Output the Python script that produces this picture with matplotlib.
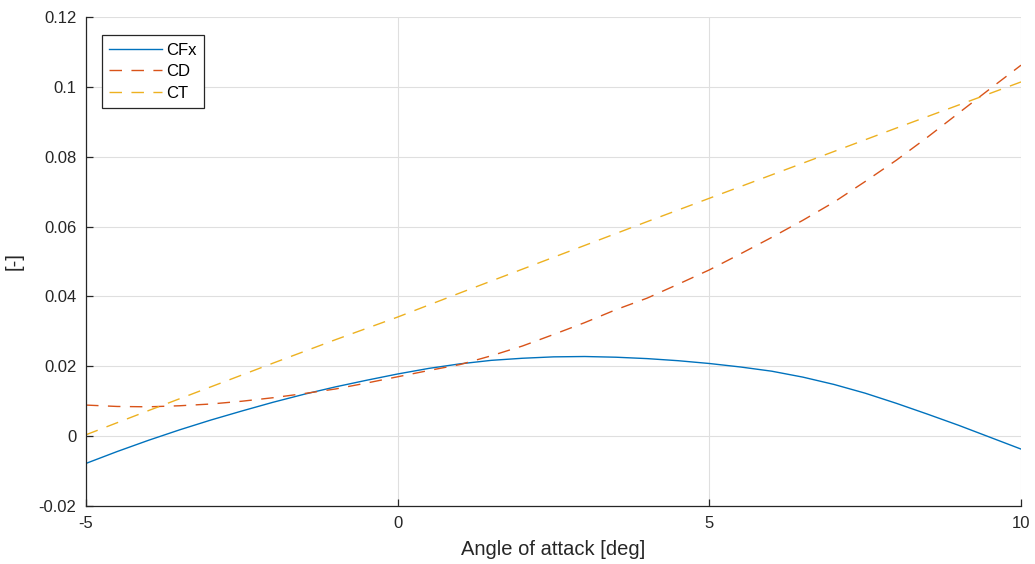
import matplotlib.pyplot as plt
import numpy as np

plt.rcParams['font.family'] = ['Liberation Sans', 'DejaVu Sans']

# angle of attack [deg], half-degree steps for the curved series
alpha = np.array([-5, -4.5, -4, -3.5, -3, -2.5, -2, -1.5, -1, -0.5, 0, 0.5, 1, 1.5, 2, 2.5,
                  3, 3.5, 4, 4.5, 5, 5.5, 6, 6.5, 7, 7.5, 8, 8.5, 9, 9.5, 10])

# force coefficients
cfx = np.array([-0.0078, -0.0044, -0.0012, 0.0018, 0.0046, 0.0072, 0.0097, 0.0120,
                0.0141, 0.0160, 0.0178, 0.0194, 0.0207, 0.0217, 0.0223, 0.0227,
                0.0228, 0.0226, 0.0222, 0.0216, 0.0208, 0.0198, 0.0186, 0.0169,
                0.0148, 0.0123, 0.0094, 0.0063, 0.0031, -0.0003, -0.0037])
cd = np.array([0.0089, 0.0085, 0.0084, 0.0087, 0.0092, 0.0100, 0.0110, 0.0122,
               0.0135, 0.0152, 0.0170, 0.0188, 0.0205, 0.0230, 0.0258, 0.0291,
               0.0325, 0.0362, 0.0395, 0.0435, 0.0476, 0.0522, 0.0569, 0.0618,
               0.0670, 0.0729, 0.0790, 0.0856, 0.0925, 0.0994, 0.1062])

alpha_ct = np.array([-5, -4, -3, -2, -1, 0, 1, 2, 3, 4, 5, 6, 7, 8, 9, 10])
ct = np.array([0.0004, 0.0073, 0.0141, 0.0209, 0.0276, 0.0341, 0.0410, 0.0478,
               0.0546, 0.0614, 0.0681, 0.0748, 0.0815, 0.0882, 0.0948, 0.1014])

fig = plt.figure(figsize=(10.35, 5.64), dpi=100)
ax = fig.add_axes([0.0831, 0.1028, 0.9034, 0.8671])

ax.plot(alpha, cfx, color='#0072BD', lw=1.0, label='CFx')
ax.plot(alpha, cd, color='#D95319', lw=1.0, dashes=(9, 6.8), label='CD')
ax.plot(alpha_ct, ct, color='#EDB120', lw=1.0, dashes=(9, 6.8), label='CT')

ax.set_xlim(-5, 10)
ax.set_ylim(-0.02, 0.12)
ax.set_xticks([-5, 0, 5, 10])
ax.set_yticks(np.arange(-0.02, 0.121, 0.02))
ax.set_yticklabels(['-0.02', '0', '0.02', '0.04', '0.06', '0.08', '0.1', '0.12'])
ax.set_xticklabels(['-5', '0', '5', '10'])

ax.grid(True, color='#DFDFDF', lw=0.8)
ax.set_axisbelow(True)
ax.spines['top'].set_visible(False)
ax.spines['right'].set_visible(False)
for s in ['left', 'bottom']:
    ax.spines[s].set_color('#262626')
    ax.spines[s].set_linewidth(0.9)
ax.tick_params(direction='in', length=5, width=0.9, pad=7,
               colors='#262626', labelsize=12)

ax.set_xlabel('Angle of attack [deg]', fontsize=14.5, color='#262626', labelpad=7)
ax.set_ylabel('[-]', fontsize=14.5, color='#262626', labelpad=11)

leg = ax.legend(loc='upper left', bbox_to_anchor=(0.0171, 0.963), borderaxespad=0,
                fontsize=12, fancybox=False, framealpha=1, edgecolor='#262626',
                handlelength=3.15, handletextpad=0.25, borderpad=0.45, labelspacing=0.4)
leg.get_frame().set_linewidth(0.9)

fig.savefig('out.png', dpi=100)
